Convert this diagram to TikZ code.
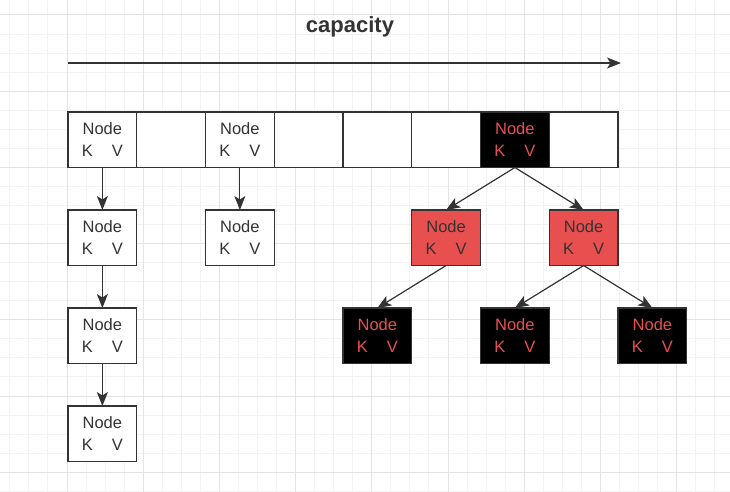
\documentclass[tikz,border=0pt]{standalone}
\usepackage{fontspec}
\setmainfont{Liberation Sans}
\usetikzlibrary{arrows.meta,positioning}

\definecolor{gridminor}{HTML}{F2F2F2}
\definecolor{gridmajor}{HTML}{E4E4E4}
\definecolor{linegray}{HTML}{333333}
\definecolor{nodered}{HTML}{E85050}
\definecolor{textred}{HTML}{E85050}

\newcommand{\kvlabel}{Node\\K\hspace{19pt}V}

\tikzset{
  box/.style={draw=linegray, line width=1.2pt, fill=white, text=linegray,
    minimum width=68.75pt, minimum height=55.5pt, inner sep=0pt, outer sep=0pt,
    align=center, font=\fontsize{16.5}{22}\selectfont},
  redbox/.style={box, fill=nodered},
  blackbox/.style={box, fill=black, text=textred},
  link/.style={linegray, line width=1.2pt, -{Stealth[length=14pt, width=11pt, inset=3.5pt]}}
}

\begin{document}
\begin{tikzpicture}[x=1pt, y=-1pt]
                \useasboundingbox (0, 0) rectangle (730, 492);
                % grid
                \foreach \i in {0, ..., 38}
                    \draw [gridminor, line width=1pt] (-9.2+19.05*\i, 0) -- ++(0, 492);
                \foreach \j in {0, ..., 26}
                    \draw [gridminor, line width=1pt] (0, -4.05+19.05*\j) -- ++(730, 0);
                \foreach \i in {0, ..., 9}
                    \draw [gridmajor, line width=1pt] (-9.2+76.2*\i, 0) -- ++(0, 492);
                \foreach \j in {0, ..., 6}
                    \draw [gridmajor, line width=1pt] (0, 15+76.2*\j) -- ++(730, 0);
                % capacity
                \node (title) [text=linegray, font=\bfseries\fontsize{22}{26}\selectfont] at (350, 27) {capacity};
                \coordinate (capL) at (68, 63);
                \coordinate (capR) at (621, 63);
                \draw [link] (capL) -- (capR);
                % table
                \node (c1) [box, anchor=north west] at (68, 112) {\kvlabel};
                \node (c2) [box, right=0pt of c1] {};
                \node (c3) [box, right=0pt of c2] {\kvlabel};
                \node (c4) [box, right=0pt of c3] {};
                \node (c5) [box, right=0pt of c4] {};
                \node (c6) [box, right=0pt of c5] {};
                \node (c7) [blackbox, right=0pt of c6] {\kvlabel};
                \node (c8) [box, right=0pt of c7] {};
                % linked list
                \node (n1) [box, below=42.5pt of c1] {\kvlabel};
                \node (n2) [box, below=42.5pt of n1] {\kvlabel};
                \node (n3) [box, below=42.5pt of n2] {\kvlabel};
                \node (m1) [box, below=42.5pt of c3] {\kvlabel};
                \draw [link] (c1) -- (n1);
                \draw [link] (n1) -- (n2);
                \draw [link] (n2) -- (n3);
                \draw [link] (c3) -- (m1);
                % red-black tree
                \node (r1) [redbox, below=42.5pt of c6] {\kvlabel};
                \node (r2) [redbox, below=42.5pt of c8] {\kvlabel};
                \node (b1) [blackbox] at (c5 |- n2) {\kvlabel};
                \node (b2) [blackbox] at (c7 |- n2) {\kvlabel};
                \node (b3) [blackbox, right=68.75pt of b2] {\kvlabel};
                \draw [link] (c7.south) -- (r1.north);
                \draw [link] (c7.south) -- (r2.north);
                \draw [link] (r1.south) -- (b1.north);
                \draw [link] (r2.south) -- (b2.north);
                \draw [link] (r2.south) -- (b3.north);
            \end{tikzpicture}
\end{document}
